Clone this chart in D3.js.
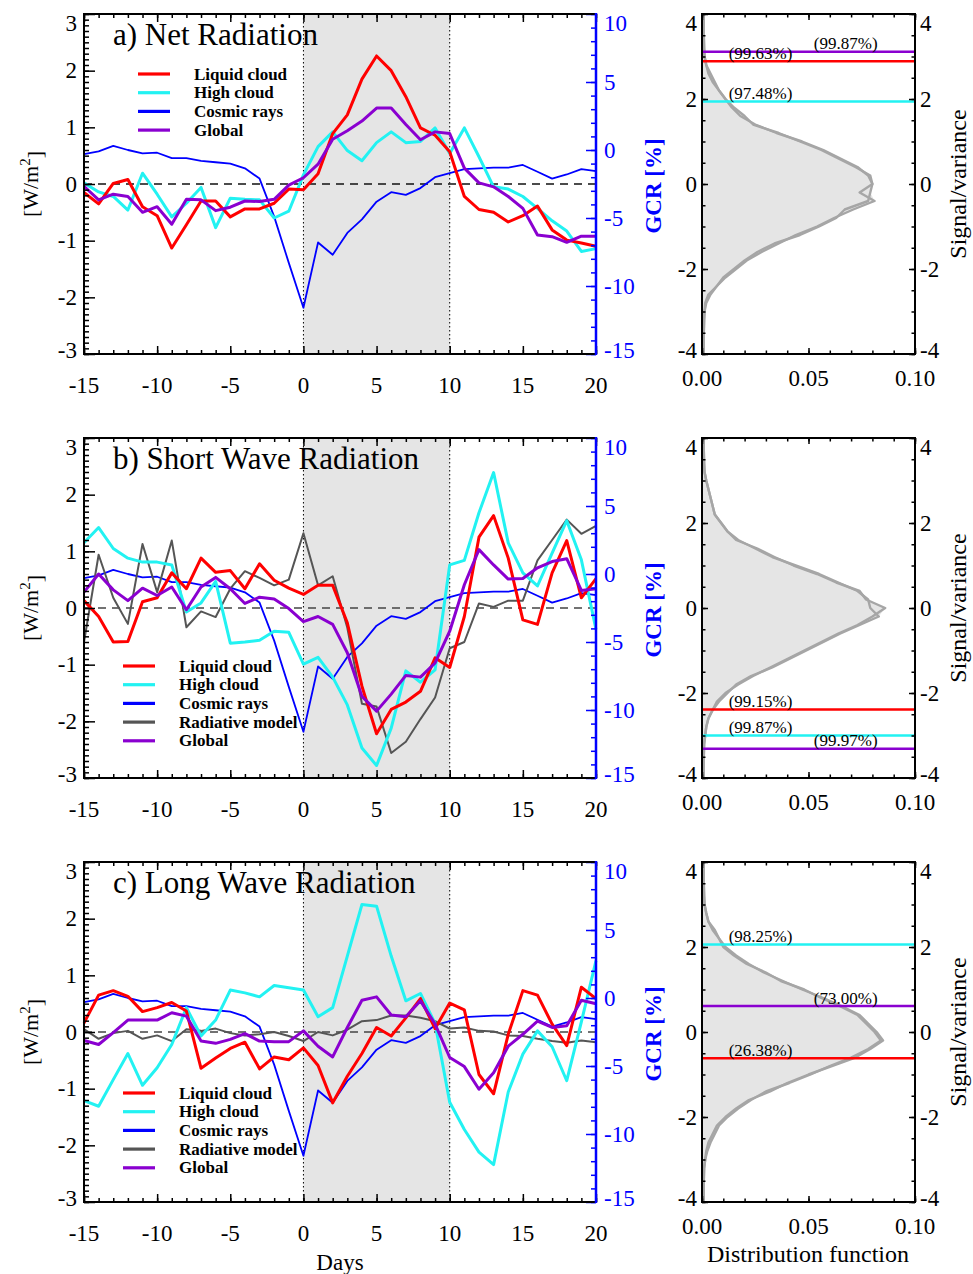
<!DOCTYPE html>
<html><head><meta charset="utf-8">
<script src="https://cdn.jsdelivr.net/npm/d3@7"></script>
<style>
body{margin:0;background:#fff}
svg{display:block}
text{font-family:"Liberation Serif","Times New Roman",serif;fill:#000}
</style>
</head><body>
<svg id="chart" width="973" height="1274"></svg>
<script>
// ---------------- DATA ----------------
const days = [-15,-14,-13,-12,-11,-10,-9,-8,-7,-6,-5,-4,-3,-2,-1,0,1,2,3,4,5,6,7,8,9,10,11,12,13,14,15,16,17,18,19,20];
const leftTicks = [-3,-2,-1,0,1,2,3];
const rightTicks = [-15,-10,-5,0,5,10];
const xTicks = [-15,-10,-5,0,5,10,15,20];
const distXTicks = [0,0.05,0.10];
const distYTicks = [-4,-2,0,2,4];

// Cosmic rays (GCR, %), right axis — same in all panels
const cosmicRays = [-0.3,-0.1,0.3,0,-0.25,-0.2,-0.6,-0.6,-0.8,-0.9,-1.0,-1.35,-2.1,-4.9,-8.3,-11.6,-6.8,-7.7,-6.1,-5.1,-3.8,-3.1,-3.3,-2.8,-2.0,-1.7,-1.4,-1.35,-1.3,-1.3,-1.1,-1.6,-2.1,-1.8,-1.4,-1.55];

// a) Net radiation
const netLiquid = [-0.15,-0.35,0.01,0.08,-0.4,-0.56,-1.13,-0.72,-0.3,-0.3,-0.58,-0.44,-0.44,-0.34,-0.09,-0.1,0.18,0.89,1.22,1.85,2.26,2.0,1.54,0.99,0.86,0.57,-0.22,-0.45,-0.5,-0.67,-0.56,-0.39,-0.81,-0.99,-1.04,-1.1];
const netHigh = [0.02,-0.14,-0.22,-0.46,0.19,-0.18,-0.58,-0.34,-0.06,-0.77,-0.25,-0.27,-0.28,-0.6,-0.48,0.16,0.66,0.92,0.59,0.41,0.73,0.92,0.73,0.75,0.99,0.54,0.99,0.48,-0.05,-0.09,-0.22,-0.43,-0.65,-0.83,-1.19,-1.14];
const netGlobal = [-0.04,-0.28,-0.18,-0.22,-0.5,-0.4,-0.71,-0.27,-0.28,-0.47,-0.41,-0.3,-0.31,-0.27,-0.02,0.11,0.35,0.79,0.94,1.11,1.34,1.34,1.05,0.78,0.92,0.89,0.28,0.02,-0.05,-0.22,-0.43,-0.9,-0.93,-1.03,-0.92,-0.92];

// b) Short wave radiation
const swLiquid = [0.13,-0.15,-0.6,-0.59,0.11,0.18,0.62,0.34,0.88,0.63,0.66,0.34,0.78,0.49,0.35,0.24,0.4,0.4,-0.26,-1.38,-2.22,-1.79,-1.66,-1.47,-0.88,-1.05,-0.15,1.25,1.63,0.88,-0.21,-0.29,0.62,1.19,0.18,0.52];
const swHigh = [1.15,1.42,1.05,0.88,0.81,0.81,0.76,-0.07,0.09,0.47,-0.62,-0.6,-0.57,-0.41,-0.43,-0.99,-0.87,-1.22,-1.71,-2.47,-2.78,-2.12,-1.11,-1.31,-1.09,0.76,0.84,1.68,2.39,1.15,0.62,0.39,0.97,1.54,0.85,-0.38];
const swModel = [-0.6,0.94,0.18,-0.28,1.13,0.28,1.19,-0.34,-0.06,-0.16,0.34,0.65,0.53,0.4,0.5,1.32,0.4,0.56,-0.35,-1.69,-1.74,-2.56,-2.36,-1.96,-1.58,-0.71,-0.6,0.08,0.02,0.13,0.13,0.84,1.2,1.56,1.31,1.45];
const swGlobal = [0.28,0.6,0.32,0.13,0.35,0.22,0.37,-0.03,0.37,0.54,0.34,0.08,0.19,0.16,-0.01,-0.24,-0.15,-0.29,-0.79,-1.56,-1.82,-1.52,-1.19,-1.22,-0.97,-0.41,0.41,1.03,0.76,0.51,0.52,0.71,0.82,0.87,0.31,0.34];

// c) Long wave radiation
const lwLiquid = [0.16,0.65,0.73,0.63,0.36,0.43,0.52,0.37,-0.64,-0.46,-0.29,-0.18,-0.65,-0.44,-0.49,-0.28,-0.59,-1.25,-0.78,-0.38,0.08,-0.07,0.25,0.59,0.06,0.51,0.39,-0.75,-1.09,-0.04,0.73,0.65,0.14,-0.24,0.79,0.59];
const lwHigh = [-1.21,-1.31,-0.84,-0.38,-0.94,-0.63,-0.22,0.43,-0.07,0.21,0.74,0.69,0.62,0.82,0.78,0.74,0.27,0.43,1.34,2.25,2.22,1.34,0.55,0.68,0.15,-1.24,-1.72,-2.12,-2.34,-1.06,-0.39,0.02,-0.26,-0.86,0.18,1.26];
const lwModel = [0.05,-0.12,-0.02,0.02,-0.12,-0.06,-0.16,0.05,0.02,0.06,-0.02,-0.06,-0.04,0.0,-0.07,-0.16,0.0,-0.06,0.04,0.19,0.21,0.29,0.29,0.25,0.19,0.06,0.08,0.02,0.01,-0.06,-0.07,-0.12,-0.16,-0.19,-0.15,-0.18];
const lwGlobal = [-0.15,-0.22,-0.01,0.21,0.21,0.21,0.34,0.28,-0.16,-0.2,-0.13,-0.03,-0.16,-0.17,-0.17,0.02,-0.25,-0.44,0.08,0.56,0.62,0.3,0.27,0.55,0.14,-0.45,-0.61,-1.01,-0.72,-0.25,-0.04,0.19,0.08,0.11,0.56,0.5];

// Distribution functions (signal/variance levels and densities)
const distY = [-4,-3.8,-3.6,-3.4,-3.2,-3,-2.8,-2.6,-2.4,-2.2,-2,-1.8,-1.6,-1.4,-1.2,-1,-0.8,-0.6,-0.4,-0.2,0,0.2,0.4,0.6,0.8,1,1.2,1.4,1.6,1.8,2,2.2,2.4,2.6,2.8,3,3.2,3.4,3.6,3.8,4];
const distNet1 = [0.0008,0.0008,0.0008,0.0009,0.001,0.0012,0.0015,0.003,0.007,0.011,0.016,0.021,0.028,0.036,0.044,0.054,0.062,0.071,0.081,0.074,0.080,0.078,0.073,0.065,0.057,0.047,0.035,0.025,0.018,0.014,0.011,0.008,0.006,0.004,0.002,0.0012,0.001,0.0009,0.0008,0.0008,0.0008];
const distNet2 = [0.0008,0.0008,0.0008,0.0009,0.001,0.0012,0.002,0.004,0.007,0.010,0.015,0.020,0.026,0.034,0.046,0.055,0.063,0.067,0.078,0.079,0.080,0.079,0.072,0.064,0.056,0.046,0.036,0.024,0.020,0.015,0.011,0.008,0.005,0.003,0.002,0.0012,0.001,0.0009,0.0008,0.0008,0.0008];
const distSw1 = [0.0008,0.0008,0.0008,0.0009,0.001,0.0015,0.002,0.003,0.005,0.007,0.011,0.017,0.024,0.032,0.040,0.048,0.056,0.064,0.073,0.080,0.086,0.077,0.074,0.063,0.054,0.043,0.034,0.026,0.016,0.012,0.009,0.006,0.005,0.004,0.003,0.002,0.0012,0.001,0.0009,0.0008,0.0008];
const distSw2 = [0.0008,0.0008,0.0008,0.0009,0.001,0.0015,0.002,0.003,0.005,0.008,0.012,0.016,0.023,0.033,0.041,0.049,0.057,0.065,0.074,0.083,0.079,0.078,0.073,0.064,0.055,0.044,0.033,0.025,0.017,0.012,0.009,0.006,0.005,0.004,0.003,0.002,0.0012,0.001,0.0009,0.0008,0.0008];
const distLw1 = [0.0008,0.0008,0.0008,0.0009,0.001,0.0015,0.002,0.003,0.005,0.007,0.011,0.016,0.022,0.032,0.040,0.050,0.061,0.072,0.079,0.085,0.082,0.078,0.074,0.066,0.057,0.047,0.038,0.029,0.022,0.016,0.011,0.008,0.006,0.003,0.002,0.0012,0.001,0.0009,0.0008,0.0008,0.0008];
const distLw2 = [0.0008,0.0008,0.0008,0.0009,0.001,0.0015,0.0025,0.004,0.006,0.008,0.012,0.017,0.023,0.030,0.041,0.051,0.060,0.070,0.078,0.084,0.081,0.077,0.073,0.065,0.056,0.048,0.037,0.030,0.021,0.015,0.010,0.008,0.005,0.003,0.002,0.0012,0.001,0.0009,0.0008,0.0008,0.0008];

// Significance thresholds
const threshNetSeries = ["Liquid cloud","High cloud","Global"];
const threshNetValues = [2.89,1.94,3.11];
const threshNetLabels = ["(99.63%)","(97.48%)","(99.87%)"];
const threshSwSeries = ["Liquid cloud","High cloud","Global"];
const threshSwValues = [-2.39,-3.0,-3.31];
const threshSwLabels = ["(99.15%)","(99.87%)","(99.97%)"];
const threshLwSeries = ["High cloud","Global","Liquid cloud"];
const threshLwValues = [2.06,0.61,-0.62];
const threshLwLabels = ["(98.25%)","(73.00%)","(26.38%)"];

// ---------------- STYLE / LAYOUT ----------------
const colors = {"Liquid cloud":"#ff0000","High cloud":"#22f2f2","Cosmic rays":"#0000ff","Radiative model":"#555555","Global":"#8a00d0"};
const widths = {"Liquid cloud":3,"High cloud":3,"Cosmic rays":1.8,"Radiative model":2,"Global":3};
const BLUE = "#0000ff";

const panels = [
  {title:"a) Net Radiation", series:[["High cloud",netHigh],["Liquid cloud",netLiquid],["Global",netGlobal]],
   legend:["Liquid cloud","High cloud","Cosmic rays","Global"], lx:138, ly:74,
   dist:[distNet1,distNet2], th:[threshNetSeries,threshNetValues,threshNetLabels]},
  {title:"b) Short Wave Radiation", series:[["Radiative model",swModel],["High cloud",swHigh],["Liquid cloud",swLiquid],["Global",swGlobal]],
   legend:["Liquid cloud","High cloud","Cosmic rays","Radiative model","Global"], lx:123, ly:228,
   dist:[distSw1,distSw2], th:[threshSwSeries,threshSwValues,threshSwLabels]},
  {title:"c) Long Wave Radiation", series:[["Radiative model",lwModel],["High cloud",lwHigh],["Liquid cloud",lwLiquid],["Global",lwGlobal]],
   legend:["Liquid cloud","High cloud","Cosmic rays","Radiative model","Global"], lx:123, ly:231,
   dist:[distLw1,distLw2], th:[threshLwSeries,threshLwValues,threshLwLabels]}
];

const svg = d3.select("#chart");
const MX0 = 84, MX1 = 596, DX0 = 702, DX1 = 915, PH = 340;
const x = d3.scaleLinear().domain([-15,20]).range([MX0,MX1]);
const xd = d3.scaleLinear().domain([0,0.1]).range([DX0,DX1]);

function addTicks(g, axis, color){
  g.call(axis);
  g.select(".domain").remove();
  g.selectAll("line").attr("stroke",color).attr("stroke-width",1.5);
}

panels.forEach((p,i)=>{
  const top = 14 + 424*i, bot = top + PH;
  const y = d3.scaleLinear().domain([-3,3]).range([bot,top]);
  const yR = d3.scaleLinear().domain([-15,10]).range([bot,top]);
  const yd = d3.scaleLinear().domain([-4,4]).range([bot,top]);
  const g = svg.append("g");

  // shaded interval
  g.append("rect").attr("x",x(0)).attr("y",top).attr("width",x(10)-x(0)).attr("height",PH).attr("fill","#e5e5e5");
  // dotted verticals
  [0,10].forEach(d=>g.append("line").attr("x1",x(d)).attr("x2",x(d)).attr("y1",top).attr("y2",bot)
     .attr("stroke","#000").attr("stroke-width",1).attr("stroke-dasharray","1.5,2.5"));
  // dashed zero line
  g.append("line").attr("x1",MX0).attr("x2",MX1).attr("y1",y(0)).attr("y2",y(0))
     .attr("stroke", i===0 ? "#111" : "#444").attr("stroke-width",1.3).attr("stroke-dasharray","8,6");

  // cosmic rays (right axis)
  const lineR = d3.line().x((v,k)=>x(days[k])).y(v=>yR(v));
  g.append("path").attr("d",lineR(cosmicRays)).attr("fill","none")
    .attr("stroke",colors["Cosmic rays"]).attr("stroke-width",widths["Cosmic rays"]).attr("stroke-linejoin","round");
  // other series (left axis)
  const lineL = d3.line().x((v,k)=>x(days[k])).y(v=>y(v));
  p.series.forEach(([name,vals])=>{
    g.append("path").attr("d",lineL(vals)).attr("fill","none")
      .attr("stroke",colors[name]).attr("stroke-width",widths[name]).attr("stroke-linejoin","round");
  });

  // ticks
  const minorY = d3.range(-3,3.001,0.1).map(v=>+v.toFixed(2));
  addTicks(g.append("g").attr("transform",`translate(${MX0},0)`), d3.axisLeft(y).tickValues(minorY).tickSize(-5).tickFormat(""), "#000");
  addTicks(g.append("g").attr("transform",`translate(${MX0},0)`), d3.axisLeft(y).tickValues(leftTicks).tickSize(-11).tickFormat(""), "#000");
  addTicks(g.append("g").attr("transform",`translate(0,${bot})`), d3.axisBottom(x).tickValues(days).tickSize(-4).tickFormat(""), "#000");
  addTicks(g.append("g").attr("transform",`translate(0,${bot})`), d3.axisBottom(x).tickValues(xTicks).tickSize(-8).tickFormat(""), "#000");
  addTicks(g.append("g").attr("transform",`translate(0,${top})`), d3.axisTop(x).tickValues(days).tickSize(-4).tickFormat(""), "#000");
  addTicks(g.append("g").attr("transform",`translate(0,${top})`), d3.axisTop(x).tickValues(xTicks).tickSize(-8).tickFormat(""), "#000");
  addTicks(g.append("g").attr("transform",`translate(${MX1},0)`), d3.axisRight(yR).tickValues(d3.range(-15,10.5,1)).tickSize(-5).tickFormat(""), BLUE);
  addTicks(g.append("g").attr("transform",`translate(${MX1},0)`), d3.axisRight(yR).tickValues(rightTicks).tickSize(-10).tickFormat(""), BLUE);

  // frame
  g.append("path").attr("d",`M${MX1},${top}H${MX0}V${bot}H${MX1}`).attr("fill","none").attr("stroke","#000").attr("stroke-width",2);
  g.append("line").attr("x1",MX1).attr("x2",MX1).attr("y1",top-1).attr("y2",bot+1).attr("stroke",BLUE).attr("stroke-width",2.5);

  // labels
  const edge = (v,lo,hi)=> v===hi ? 9 : (v===lo ? -4 : 0);
  leftTicks.forEach(v=>g.append("text").attr("x",77).attr("y",y(v)+edge(v,-3,3)).attr("dy","0.34em")
     .attr("text-anchor","end").style("font-size","23px").text(v));
  rightTicks.forEach(v=>g.append("text").attr("x",604).attr("y",yR(v)+edge(v,-15,10)).attr("dy","0.34em")
     .attr("text-anchor","start").style("font-size","23px").style("fill",BLUE).text(v));
  xTicks.forEach(v=>g.append("text").attr("x",x(v)).attr("y",bot+31).attr("dy","0.34em")
     .attr("text-anchor","middle").style("font-size","23px").text(v));

  // axis titles
  const wt = g.append("text").attr("transform",`translate(31,${top+170}) rotate(-90)`).attr("text-anchor","middle")
     .attr("dy","0.34em").style("font-size","22px");
  wt.append("tspan").text("[W/m");
  wt.append("tspan").attr("dy","-0.55em").style("font-size","15px").text("2");
  wt.append("tspan").attr("dy","0.55em").text("]");
  g.append("text").attr("transform",`translate(653,${top+172}) rotate(-90)`).attr("text-anchor","middle")
     .attr("dy","0.34em").style("font-size","23px").style("font-weight","bold").style("fill",BLUE).text("GCR [%]");
  g.append("text").attr("transform",`translate(958,${top+170}) rotate(-90)`).attr("text-anchor","middle")
     .attr("dy","0.34em").style("font-size","24px").text("Signal/variance");

  // title
  g.append("text").attr("x",113).attr("y",top+31).style("font-size","31px").text(p.title);

  // legend
  p.legend.forEach((name,j)=>{
    const ly = top + p.ly - (i===0 ? 14 : 0) + j*18.7;
    g.append("line").attr("x1",p.lx).attr("x2",p.lx+32).attr("y1",ly).attr("y2",ly)
      .attr("stroke",colors[name]).attr("stroke-width",3.2);
    g.append("text").attr("x",p.lx+56).attr("y",ly).attr("dy","0.33em")
      .style("font-size","17px").style("font-weight","bold").text(name);
  });

  // ---------- distribution panel ----------
  const gd = svg.append("g");
  const area = d3.area().y((v,k)=>yd(distY[k])).x0(xd(0)).x1(v=>xd(v));
  const maxCurve = p.dist[0].map((v,k)=>Math.max(v,p.dist[1][k]));
  gd.append("path").attr("d",area(maxCurve)).attr("fill","#e5e5e5");
  const dl = d3.line().y((v,k)=>yd(distY[k])).x(v=>xd(v));
  p.dist.forEach(c=>gd.append("path").attr("d",dl(c)).attr("fill","none").attr("stroke","#a6a6a6")
     .attr("stroke-width",2.4).attr("stroke-linejoin","round"));

  // thresholds
  const [ts,tv,tl] = p.th;
  ts.forEach((name,k)=>{
    gd.append("line").attr("x1",DX0).attr("x2",DX1).attr("y1",yd(tv[k])).attr("y2",yd(tv[k]))
      .attr("stroke",colors[name]).attr("stroke-width",2.5);
  });
  ts.forEach((name,k)=>{
    const lxp = name==="Global" ? xd(0.0525) : xd(0.0125);
    gd.append("text").attr("x",lxp).attr("y",yd(tv[k])-2.5).style("font-size","17px").text(tl[k]);
  });

  // dist ticks
  const minorD = d3.range(-4,4.001,0.5);
  addTicks(gd.append("g").attr("transform",`translate(${DX0},0)`), d3.axisLeft(yd).tickValues(minorD).tickSize(-3.5).tickFormat(""), "#000");
  addTicks(gd.append("g").attr("transform",`translate(${DX0},0)`), d3.axisLeft(yd).tickValues(distYTicks).tickSize(-6).tickFormat(""), "#000");
  addTicks(gd.append("g").attr("transform",`translate(${DX1},0)`), d3.axisRight(yd).tickValues(minorD).tickSize(-3.5).tickFormat(""), "#000");
  addTicks(gd.append("g").attr("transform",`translate(${DX1},0)`), d3.axisRight(yd).tickValues(distYTicks).tickSize(-6).tickFormat(""), "#000");
  const minorDX = d3.range(0,0.1001,0.01);
  addTicks(gd.append("g").attr("transform",`translate(0,${bot})`), d3.axisBottom(xd).tickValues(minorDX).tickSize(-3.5).tickFormat(""), "#000");
  addTicks(gd.append("g").attr("transform",`translate(0,${bot})`), d3.axisBottom(xd).tickValues(distXTicks).tickSize(-6).tickFormat(""), "#000");
  addTicks(gd.append("g").attr("transform",`translate(0,${top})`), d3.axisTop(xd).tickValues(minorDX).tickSize(-3.5).tickFormat(""), "#000");
  addTicks(gd.append("g").attr("transform",`translate(0,${top})`), d3.axisTop(xd).tickValues(distXTicks).tickSize(-6).tickFormat(""), "#000");
  gd.append("rect").attr("x",DX0).attr("y",top).attr("width",DX1-DX0).attr("height",PH)
    .attr("fill","none").attr("stroke","#000").attr("stroke-width",2);

  distYTicks.forEach(v=>{
    const dy = edge(v,-4,4);
    gd.append("text").attr("x",697).attr("y",yd(v)+dy).attr("dy","0.34em").attr("text-anchor","end").style("font-size","23px").text(v);
    gd.append("text").attr("x",920).attr("y",yd(v)+dy).attr("dy","0.34em").attr("text-anchor","start").style("font-size","23px").text(v);
  });
  distXTicks.forEach(v=>gd.append("text").attr("x",xd(v)).attr("y",bot+24).attr("dy","0.34em")
     .attr("text-anchor","middle").style("font-size","23px").text(d3.format(".2f")(v)));
});

svg.append("text").attr("x",x(2.5)).attr("y",1270).attr("text-anchor","middle").style("font-size","23px").text("Days");
svg.append("text").attr("x",808).attr("y",1262).attr("text-anchor","middle").style("font-size","24px").text("Distribution function");
</script>
</body></html>
